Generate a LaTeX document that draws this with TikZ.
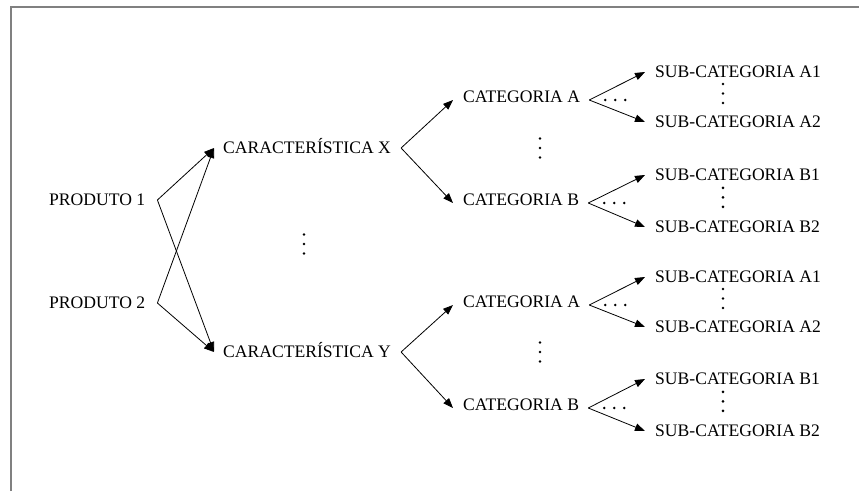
\documentclass[tikz,border=0pt]{standalone}
\usepackage{fontspec}
\setmainfont{Liberation Serif}
\usetikzlibrary{arrows.meta,calc}

\tikzset{
  lbl/.style={anchor=west, inner sep=0pt, text height=11.6pt, text depth=0pt,
              font=\fontsize{17.6}{20}\selectfont},
  arr/.style={line width=0.8pt, -{Triangle[length=10pt,width=7.5pt]}},
  dotmark/.style={fill=black, draw=none},
  frameline/.style={draw={rgb,255:red,128;green,128;blue,128}, line width=1.6pt},
}

% three dots in a row (horizontal) or column (vertical)
\newcommand{\hdotsat}[2]{\foreach \k in {0,1,2}{\fill[dotmark] ([xshift=#2+10*\k pt]#1) circle (1.4pt);}}
\newcommand{\vdotsat}[1]{\foreach \k in {-1,0,1}{\fill[dotmark] ([yshift=-9.5*\k pt]#1) circle (1.4pt);}}

\begin{document}
\begin{tikzpicture}[x=1pt, y=-1pt]
\useasboundingbox (0,0) rectangle (859,491);

% frame: top and left edges
\draw[frameline] (11,491) -- (11,7) -- (859,7);

% products
\node[lbl] (p1) at (49,200) {PRODUTO 1};
\node[lbl] (p2) at (49,303) {PRODUTO 2};

% characteristics
\node[lbl] (cx) at (223,148) {CARACTERÍSTICA X};
\node[lbl] (cy) at (223,352) {CARACTERÍSTICA Y};
\coordinate (mid) at (304,244);
\vdotsat{mid}

% categories
\node[lbl] (caX) at (463,97)  {CATEGORIA A};
\node[lbl] (cbX) at (463,200) {CATEGORIA B};
\node[lbl] (caY) at (463,302) {CATEGORIA A};
\node[lbl] (cbY) at (463,405) {CATEGORIA B};
\coordinate (midX) at (540,148);
\coordinate (midY) at (540,352);
\vdotsat{midX}
\vdotsat{midY}

% sub-categories
\node[lbl] (saX1) at (655,72)  {SUB-CATEGORIA A1};
\node[lbl] (saX2) at (655,122) {SUB-CATEGORIA A2};
\node[lbl] (sbX1) at (655,175) {SUB-CATEGORIA B1};
\node[lbl] (sbX2) at (655,227) {SUB-CATEGORIA B2};
\node[lbl] (saY1) at (655,277) {SUB-CATEGORIA A1};
\node[lbl] (saY2) at (655,327) {SUB-CATEGORIA A2};
\node[lbl] (sbY1) at (655,379) {SUB-CATEGORIA B1};
\node[lbl] (sbY2) at (655,431) {SUB-CATEGORIA B2};

% branch points
\coordinate (p1v) at ([xshift=12pt]p1.east);
\coordinate (p2v) at ([xshift=12pt]p2.east);
\coordinate (cxv) at ([xshift=10pt]cx.east);
\coordinate (cyv) at ([xshift=10pt]cy.east);
\foreach \n in {caX,cbX,caY,cbY}{\coordinate (\n v) at ([xshift=9pt,yshift=-3pt]\n.east);}

% product -> characteristic
\draw[arr] (p1v) -- ([xshift=-9pt]cx.west);
\draw[arr] (p1v) -- ([xshift=-9pt]cy.west);
\draw[arr] (p2v) -- ([xshift=-9pt]cx.west);
\draw[arr] (p2v) -- ([xshift=-9pt]cy.west);

% characteristic -> category
\draw[arr] (cxv) -- ([xshift=-10pt,yshift=-3pt]caX.west);
\draw[arr] (cxv) -- ([xshift=-10pt,yshift=-3pt]cbX.west);
\draw[arr] (cyv) -- ([xshift=-10pt,yshift=-3pt]caY.west);
\draw[arr] (cyv) -- ([xshift=-10pt,yshift=-3pt]cbY.west);

% category -> sub-category
\draw[arr] (caXv) -- ([xshift=-10pt]saX1.west);
\draw[arr] (caXv) -- ([xshift=-10pt]saX2.west);
\draw[arr] (cbXv) -- ([xshift=-10pt]sbX1.west);
\draw[arr] (cbXv) -- ([xshift=-10pt]sbX2.west);
\draw[arr] (caYv) -- ([xshift=-10pt]saY1.west);
\draw[arr] (caYv) -- ([xshift=-10pt]saY2.west);
\draw[arr] (cbYv) -- ([xshift=-10pt]sbY1.west);
\draw[arr] (cbYv) -- ([xshift=-10pt]sbY2.west);

% ellipses after each category branch point
\foreach \n in {caXv,cbXv,caYv,cbYv}{\hdotsat{\n}{16pt}}

% vertical ellipses between sub-categories
\foreach \a/\b/\c in {saX1/saX2/dA,sbX1/sbX2/dB,saY1/saY2/dC,sbY1/sbY2/dD}{
  \coordinate (\c) at ($ (\a.west)!0.43!(\b.west) + (68pt,0) $);
  \vdotsat{\c}
}
\end{tikzpicture}
\end{document}
